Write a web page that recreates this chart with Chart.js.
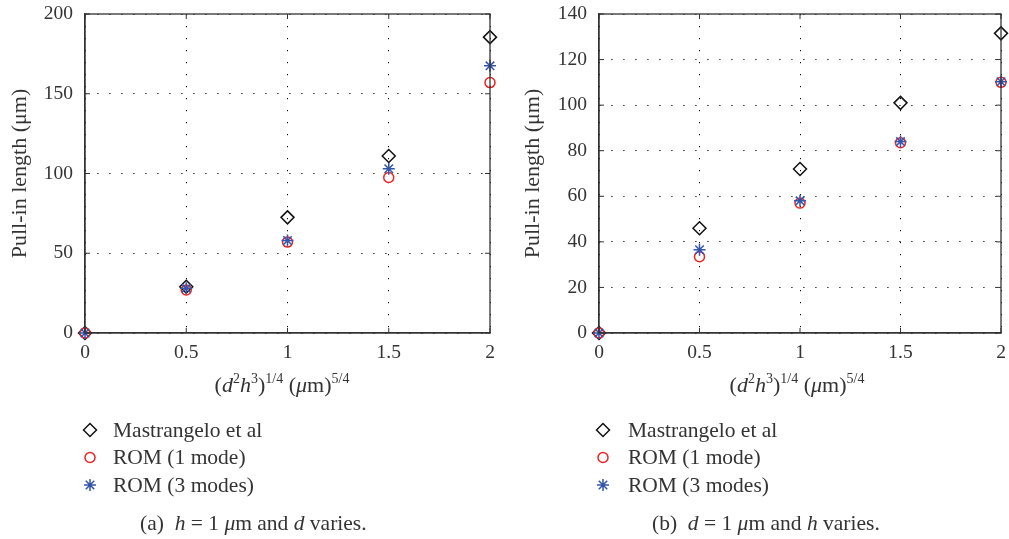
<!DOCTYPE html>
<html>
<head>
<meta charset="utf-8">
<script src="https://cdn.jsdelivr.net/npm/chart.js@4/dist/chart.umd.min.js"></script>
<style>
    body { margin: 0; background: #fff; }
    #pagina { position: relative; width: 1009px; height: 539px; overflow: hidden; font-family: 'Liberation Serif', serif; color: #333; }
    .painel { position: absolute; top: 0; height: 539px; }
    .painel canvas { position: absolute; left: 0; top: 0; }
    .titulo-x { position: absolute; top: 374px; font-size: 22px; line-height: 1; white-space: nowrap; transform: translateX(-50%); }
    .titulo-x sup { font-size: 14px; line-height: 0; vertical-align: 9px; }
    .legenda-fig { position: absolute; top: 513px; font-size: 21.5px; line-height: 1; white-space: nowrap; }
</style>
</head>
<body>
<div id="pagina">
    <div class="painel" style="left:0; width:505px;">
        <canvas id="graficoA" width="505" height="539"></canvas>
        <div class="titulo-x" style="left:282px;">(<i>d</i><sup>2</sup><i>h</i><sup>3</sup>)<sup>1/4</sup> (<i>μ</i>m)<sup>5/4</sup></div>
        <div class="legenda-fig" style="left:140px;">(a)&nbsp;&nbsp;<i>h</i> = 1 <i>μ</i>m and <i>d</i> varies.</div>
    </div>
    <div class="painel" style="left:505px; width:504px;">
        <canvas id="graficoB" width="504" height="539"></canvas>
        <div class="titulo-x" style="left:292px;">(<i>d</i><sup>2</sup><i>h</i><sup>3</sup>)<sup>1/4</sup> (<i>μ</i>m)<sup>5/4</sup></div>
        <div class="legenda-fig" style="left:147px;">(b)&nbsp;&nbsp;<i>d</i> = 1 <i>μ</i>m and <i>h</i> varies.</div>
    </div>
</div>
<script>
// valores
const xValores = [0, 0.5, 1, 1.5, 2];
const xTicks = [0, 0.5, 1, 1.5, 2];

// (a) h = 1 um e d varia
const mastrangeloA = [0, 29, 72.5, 111, 185.5];
const rom1A = [0, 27, 57, 97.5, 157];
const rom3A = [0, 28, 58, 103, 167.5];
const yTicksA = [0, 50, 100, 150, 200];

// (b) d = 1 um e h varia
const mastrangeloB = [0, 46, 72, 101, 131.5];
const rom1B = [0, 33.5, 57, 83.5, 110];
const rom3B = [0, 36.5, 58, 84, 110.3];
const yTicksB = [0, 20, 40, 60, 80, 100, 120, 140];

const nomesSeries = ['Mastrangelo et al', 'ROM (1 mode)', 'ROM (3 modes)'];

const fonte = (tam) => ({ family: "'Liberation Serif', serif", size: tam });

// caixa fechada, tracinhos internos e legenda embaixo
const molduraPlugin = {
    id: 'moldura',
    afterDraw(chart, args, opts) {
        const { ctx, chartArea: a, scales } = chart;
        ctx.save();
        ctx.strokeStyle = '#333';
        ctx.lineWidth = 1.3;
        ctx.strokeRect(a.left, a.top, a.right - a.left, a.bottom - a.top);

        ctx.lineWidth = 1;
        ctx.beginPath();
        scales.x.ticks.forEach(t => {
            const px = scales.x.getPixelForValue(t.value);
            ctx.moveTo(px, a.bottom); ctx.lineTo(px, a.bottom - 5);
            ctx.moveTo(px, a.top); ctx.lineTo(px, a.top + 5);
        });
        scales.y.ticks.forEach(t => {
            const py = scales.y.getPixelForValue(t.value);
            ctx.moveTo(a.left, py); ctx.lineTo(a.left + 5, py);
            ctx.moveTo(a.right, py); ctx.lineTo(a.right - 5, py);
        });
        ctx.stroke();

        ctx.font = "21.5px 'Liberation Serif', serif";
        ctx.textBaseline = 'middle';
        ctx.textAlign = 'left';
        chart.data.datasets.forEach((ds, i) => {
            const y = opts.legendaY + i * 27.5;
            ctx.strokeStyle = ds.pointBorderColor;
            ctx.fillStyle = 'rgba(0,0,0,0)';
            ctx.lineWidth = ds.pointBorderWidth;
            Chart.helpers.drawPoint(ctx, {
                pointStyle: ds.pointStyle, radius: ds.pointRadius,
                borderWidth: ds.pointBorderWidth, rotation: 0
            }, opts.marcaX, y);
            ctx.fillStyle = '#333';
            ctx.fillText(ds.label, opts.textoX, y + 1);
        });
        ctx.restore();
    }
};

function serie(label, valores, estilo, cor, raio, ordem) {
    return {
        label: label,
        data: xValores.map((x, i) => ({ x: x, y: valores[i] })),
        showLine: false,
        pointStyle: estilo,
        pointRadius: raio,
        pointHoverRadius: raio,
        pointBorderColor: cor,
        pointBackgroundColor: 'rgba(0,0,0,0)',
        pointBorderWidth: 1.5,
        borderColor: cor,
        backgroundColor: 'rgba(0,0,0,0)',
        order: ordem,
        clip: false
    };
}

function criarGrafico(id, mastrangelo, rom1, rom3, yTicks, cfg) {
    const ctx = document.getElementById(id).getContext('2d');
    return new Chart(ctx, {
        type: 'scatter',
        data: {
            datasets: [
                serie(nomesSeries[0], mastrangelo, 'rectRot', '#111111', 6.5, 2),
                serie(nomesSeries[1], rom1, 'circle', '#ee2222', 5, 1),
                serie(nomesSeries[2], rom3, 'star', '#3355aa', 6, 0)
            ]
        },
        options: {
            responsive: false,
            animation: false,
            events: [],
            layout: { padding: { left: 0, right: cfg.padDireita, top: 14, bottom: 176 } },
            plugins: {
                legend: { display: false },
                tooltip: { enabled: false },
                moldura: cfg.legenda
            },
            scales: {
                x: {
                    type: 'linear', min: 0, max: 2,
                    afterBuildTicks: s => { s.ticks = xTicks.map(v => ({ value: v })); },
                    afterFit: s => { s.height = 30; s.paddingLeft = 0; s.paddingRight = 0; },
                    ticks: { color: '#333', font: fonte(19.5), padding: 8, maxRotation: 0, callback: v => String(v) },
                    grid: { color: '#000', lineWidth: 1, drawTicks: false, borderDash: [1.2, 10.8] },
                    border: { display: true, color: '#333', width: 1.3, dash: [1.2, 10.8] }
                },
                y: {
                    type: 'linear', min: yTicks[0], max: yTicks[yTicks.length - 1],
                    afterBuildTicks: s => { s.ticks = yTicks.map(v => ({ value: v })); },
                    afterFit: s => { s.width = cfg.larguraY; s.paddingTop = 0; s.paddingBottom = 0; },
                    ticks: { color: '#333', font: fonte(19.5), padding: 12, callback: v => String(v) },
                    grid: { color: '#000', lineWidth: 1, drawTicks: false, borderDash: [1.2, 10.8] },
                    border: { display: true, color: '#333', width: 1.3, dash: [1.2, 10.8] },
                    title: {
                        display: true, text: 'Pull-in length (μm)', color: '#333',
                        font: fonte(22), padding: { top: cfg.padTitulo, bottom: 0 }
                    }
                }
            }
        },
        plugins: [molduraPlugin]
    });
}

criarGrafico('graficoA', mastrangeloA, rom1A, rom3A, yTicksA, {
    padDireita: 15, larguraY: 85, padTitulo: 7,
    legenda: { marcaX: 90, textoX: 113, legendaY: 430 }
});

criarGrafico('graficoB', mastrangeloB, rom1B, rom3B, yTicksB, {
    padDireita: 6, larguraY: 94, padTitulo: 15,
    legenda: { marcaX: 98, textoX: 123, legendaY: 430 }
});
</script>
</body>
</html>
